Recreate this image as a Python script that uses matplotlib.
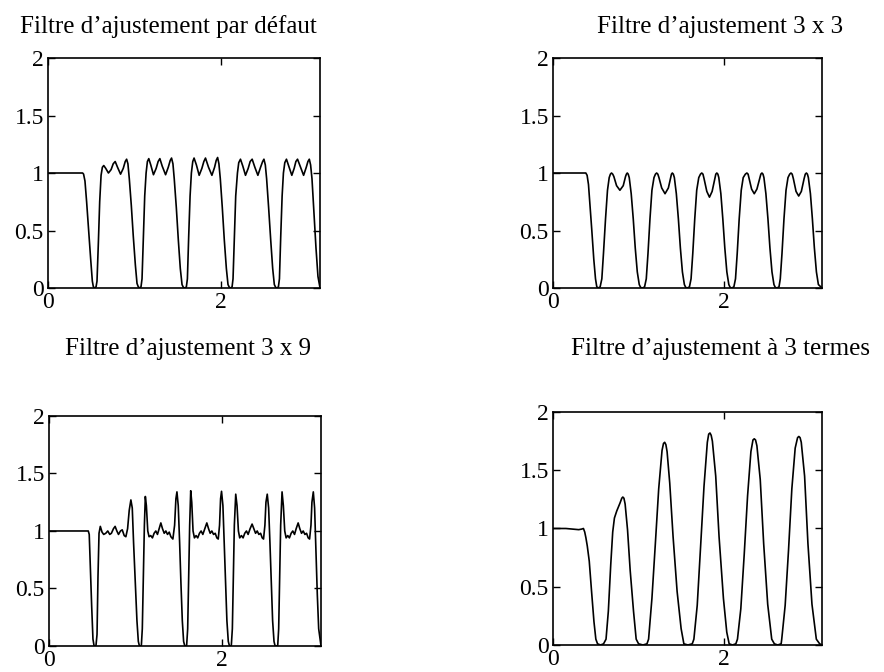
import numpy as np
import matplotlib.pyplot as plt

plt.rcParams['font.family'] = ['Liberation Serif', 'DejaVu Serif']

# gains (frequence en radians, gain)
freq_defaut = [0.0, 0.40, 0.411, 0.427, 0.446, 0.469, 0.493, 0.512, 0.524, 0.539, 0.555, 0.566, 0.582, 0.597, 0.613, 0.628,
               0.644, 0.667, 0.698, 0.729, 0.753, 0.776, 0.803, 0.838, 0.869, 0.892, 0.908, 0.923, 0.939, 0.962, 0.985,
               1.009, 1.028, 1.043, 1.059, 1.074,
               1.086, 1.102, 1.117, 1.133, 1.148, 1.164, 1.187, 1.218, 1.249, 1.272, 1.292, 1.319, 1.358, 1.389, 1.412,
               1.427, 1.443, 1.458, 1.482, 1.505, 1.528, 1.548, 1.564, 1.583, 1.598,
               1.610, 1.625, 1.641, 1.656, 1.672, 1.687, 1.714, 1.746, 1.777, 1.800, 1.819, 1.854, 1.893, 1.924, 1.943,
               1.959, 1.974, 1.990, 2.013, 2.036, 2.060, 2.079, 2.095, 2.110, 2.126,
               2.137, 2.153, 2.168, 2.188, 2.203, 2.223, 2.250, 2.281, 2.312, 2.335, 2.358, 2.389, 2.424, 2.455, 2.479,
               2.494, 2.510, 2.525, 2.548, 2.572, 2.595, 2.614, 2.630, 2.645, 2.661,
               2.673, 2.688, 2.704, 2.719, 2.735, 2.754, 2.781, 2.816, 2.843, 2.863, 2.882, 2.917, 2.952, 2.983, 3.002,
               3.018, 3.033, 3.049, 3.072, 3.095, 3.118, 3.142]
gain_defaut = [1.0, 1.0, 0.99, 0.93, 0.75, 0.50, 0.25, 0.06, 0.01, 0.0, 0.01, 0.06, 0.40, 0.75, 0.98, 1.05,
               1.065, 1.04, 1.0, 1.03, 1.08, 1.10, 1.05, 0.99, 1.04, 1.10, 1.12, 1.08, 0.95, 0.72, 0.45,
               0.20, 0.04, 0.01, 0.0, 0.01,
               0.08, 0.45, 0.80, 1.0, 1.10, 1.125, 1.07, 0.985, 1.04, 1.10, 1.125, 1.06, 0.985, 1.05, 1.11,
               1.13, 1.08, 0.95, 0.70, 0.42, 0.17, 0.03, 0.005, 0.0, 0.01,
               0.08, 0.45, 0.80, 1.0, 1.10, 1.13, 1.07, 0.98, 1.04, 1.10, 1.13, 1.05, 0.98, 1.05, 1.11,
               1.135, 1.08, 0.95, 0.70, 0.42, 0.17, 0.03, 0.005, 0.0, 0.01,
               0.08, 0.45, 0.80, 1.0, 1.09, 1.12, 1.06, 0.98, 1.04, 1.10, 1.12, 1.05, 0.98, 1.05, 1.10,
               1.12, 1.07, 0.95, 0.70, 0.42, 0.17, 0.03, 0.005, 0.0, 0.01,
               0.08, 0.45, 0.80, 1.0, 1.09, 1.12, 1.06, 0.98, 1.04, 1.10, 1.12, 1.05, 0.98, 1.05, 1.10,
               1.12, 1.07, 0.95, 0.65, 0.35, 0.10, 0.0]

freq_3x3 = [0.0, 0.383, 0.398, 0.414, 0.429, 0.453, 0.476, 0.496, 0.511, 0.531, 0.550,
            0.570, 0.589, 0.613, 0.636, 0.656, 0.670, 0.683, 0.697, 0.710, 0.742, 0.781, 0.820, 0.847, 0.857,
            0.867, 0.878, 0.890, 0.913,
            0.937, 0.960, 0.984, 1.007, 1.023, 1.046, 1.069,
            1.089, 1.109, 1.132, 1.155, 1.179, 1.196, 1.210, 1.224, 1.237, 1.269, 1.308, 1.347, 1.374, 1.383,
            1.393, 1.405, 1.417, 1.440,
            1.464, 1.487, 1.511, 1.534, 1.550, 1.569, 1.593,
            1.612, 1.632, 1.655, 1.678, 1.702, 1.722, 1.737, 1.751, 1.764, 1.796, 1.827, 1.858, 1.889, 1.901,
            1.913, 1.925, 1.936, 1.960,
            1.983, 2.006, 2.030, 2.053, 2.069, 2.088, 2.112,
            2.131, 2.151, 2.174, 2.198, 2.221, 2.246, 2.264, 2.278, 2.291, 2.319, 2.350, 2.381, 2.412, 2.427,
            2.440, 2.452, 2.463, 2.486,
            2.510, 2.533, 2.557, 2.580, 2.596, 2.615, 2.639,
            2.654, 2.674, 2.697, 2.721, 2.744, 2.764, 2.779, 2.793, 2.807, 2.838, 2.869, 2.900, 2.932, 2.946,
            2.959, 2.971, 2.982, 3.006,
            3.029, 3.052, 3.076, 3.099, 3.142]
gain_3x3 = [1.0, 1.0, 0.98, 0.90, 0.75, 0.50, 0.25, 0.08, 0.01, 0.0, 0.01,
            0.08, 0.30, 0.60, 0.85, 0.96, 0.99, 1.0, 0.99, 0.97, 0.89, 0.85, 0.89, 0.97, 0.99,
            1.0, 0.99, 0.96, 0.82,
            0.60, 0.35, 0.14, 0.03, 0.005, 0.0, 0.01,
            0.08, 0.30, 0.60, 0.85, 0.96, 0.99, 1.0, 0.99, 0.96, 0.87, 0.82, 0.87, 0.96, 0.99,
            1.0, 0.99, 0.96, 0.82,
            0.60, 0.35, 0.14, 0.03, 0.005, 0.0, 0.01,
            0.08, 0.30, 0.60, 0.85, 0.96, 0.99, 1.0, 0.99, 0.95, 0.84, 0.79, 0.84, 0.95, 0.99,
            1.0, 0.99, 0.96, 0.82,
            0.60, 0.35, 0.14, 0.03, 0.005, 0.0, 0.01,
            0.08, 0.30, 0.60, 0.85, 0.96, 0.99, 1.0, 0.99, 0.95, 0.86, 0.82, 0.86, 0.95, 0.99,
            1.0, 0.99, 0.96, 0.82,
            0.60, 0.35, 0.14, 0.03, 0.005, 0.0, 0.01,
            0.08, 0.30, 0.60, 0.85, 0.96, 0.99, 1.0, 0.99, 0.95, 0.84, 0.80, 0.84, 0.95, 0.99,
            1.0, 0.99, 0.96, 0.82,
            0.60, 0.35, 0.14, 0.03, 0.0]

freq_3x9 = [0.0, 0.454, 0.465, 0.477, 0.493, 0.508, 0.520, 0.531, 0.543, 0.555, 0.566, 0.578, 0.593, 0.613,
            0.632, 0.656, 0.679, 0.702, 0.721, 0.745, 0.764, 0.784, 0.803, 0.826, 0.846, 0.869, 0.888, 0.908,
            0.927, 0.946, 0.962, 0.977, 0.997, 1.016, 1.032, 1.043, 1.055, 1.067,
            1.078, 1.090, 1.102, 1.113, 1.125, 1.141, 1.156, 1.175, 1.195, 1.214, 1.234, 1.253, 1.272, 1.292,
            1.311, 1.331, 1.350, 1.369, 1.389, 1.408, 1.431, 1.451, 1.466, 1.478, 1.493, 1.509, 1.524, 1.540,
            1.555, 1.567, 1.579, 1.590,
            1.602, 1.614, 1.625, 1.637, 1.649, 1.664, 1.680, 1.699, 1.718, 1.738, 1.757, 1.777, 1.800, 1.823,
            1.843, 1.862, 1.881, 1.901, 1.920, 1.939, 1.955, 1.970, 1.982, 1.993, 2.009, 2.024, 2.040, 2.055,
            2.071, 2.083, 2.095, 2.106,
            2.118, 2.130, 2.141, 2.157, 2.172, 2.188, 2.203, 2.223, 2.242, 2.261, 2.281, 2.300, 2.323, 2.346,
            2.366, 2.386, 2.405, 2.424, 2.444, 2.463, 2.478, 2.494, 2.506, 2.521, 2.537, 2.552, 2.568, 2.583,
            2.599, 2.610, 2.626, 2.642,
            2.653, 2.665, 2.676, 2.692, 2.707, 2.723, 2.739, 2.758, 2.777, 2.797, 2.816, 2.836, 2.855, 2.878,
            2.897, 2.917, 2.936, 2.956, 2.975, 2.994, 3.010, 3.026, 3.037, 3.053, 3.068, 3.084, 3.099, 3.115,
            3.142]
gain_3x9 = [1.0, 1.0, 0.97, 0.70, 0.35, 0.06, 0.005, 0.0, 0.005, 0.10, 0.60, 0.98, 1.04, 0.99,
            0.97, 0.98, 1.0, 0.97, 0.98, 1.02, 1.04, 1.0, 0.97, 1.0, 1.01, 0.96, 0.95, 1.02,
            1.18, 1.27, 1.20, 0.90, 0.55, 0.22, 0.04, 0.005, 0.0, 0.005,
            0.15, 0.60, 1.05, 1.30, 1.22, 1.0, 0.95, 0.96, 0.94, 0.98, 1.00, 0.97, 1.02, 1.07,
            1.02, 0.98, 1.00, 0.97, 0.99, 0.95, 0.93, 1.05, 1.28, 1.34, 1.22, 0.90, 0.55, 0.22,
            0.04, 0.005, 0.0, 0.005,
            0.15, 0.60, 1.05, 1.35, 1.25, 1.0, 0.94, 0.96, 0.94, 0.98, 1.00, 0.97, 1.02, 1.07,
            1.02, 0.98, 1.00, 0.97, 0.98, 0.94, 0.93, 1.05, 1.28, 1.345, 1.22, 0.90, 0.55, 0.22,
            0.04, 0.005, 0.0, 0.005,
            0.15, 0.60, 1.05, 1.32, 1.22, 1.0, 0.94, 0.96, 0.94, 0.98, 1.00, 0.97, 1.02, 1.06,
            1.02, 0.98, 1.00, 0.97, 0.98, 0.94, 0.93, 1.05, 1.25, 1.32, 1.20, 0.90, 0.55, 0.22,
            0.04, 0.005, 0.0, 0.005,
            0.15, 0.60, 1.05, 1.34, 1.22, 1.0, 0.94, 0.96, 0.94, 0.98, 1.00, 0.97, 1.02, 1.07,
            1.02, 0.98, 1.00, 0.97, 0.98, 0.94, 0.93, 1.05, 1.25, 1.34, 1.20, 0.80, 0.45, 0.15,
            0.0]

freq_3t = [0.0, 0.15, 0.30, 0.335, 0.355, 0.37, 0.384, 0.40, 0.423, 0.45, 0.478, 0.50, 0.52, 0.555, 0.59,
           0.619, 0.646, 0.674, 0.697, 0.717, 0.744, 0.783, 0.803, 0.815, 0.828, 0.842, 0.870, 0.901, 0.940,
           0.971, 0.999, 1.05, 1.097,
           1.116, 1.155, 1.195, 1.234, 1.273, 1.290, 1.304, 1.318, 1.332, 1.363, 1.402, 1.449, 1.496, 1.528,
           1.575, 1.626,
           1.645, 1.684, 1.723, 1.763, 1.802, 1.818, 1.833, 1.847, 1.861, 1.900, 1.939, 1.990, 2.029, 2.057,
           2.096, 2.135,
           2.154, 2.193, 2.233, 2.272, 2.311, 2.335, 2.350, 2.365, 2.381, 2.420, 2.460, 2.507, 2.554, 2.585,
           2.624, 2.664,
           2.671, 2.711, 2.750, 2.789, 2.828, 2.856, 2.871, 2.885, 2.899, 2.938, 2.977, 3.024, 3.075, 3.114,
           3.142]
gain_3t = [1.0, 1.0, 0.99, 0.995, 1.0, 0.97, 0.92, 0.85, 0.72, 0.46, 0.20, 0.05, 0.01, 0.0, 0.01,
           0.05, 0.29, 0.69, 0.97, 1.09, 1.15, 1.22, 1.26, 1.27, 1.26, 1.21, 0.99, 0.64, 0.29,
           0.05, 0.01, 0.0, 0.01,
           0.05, 0.40, 0.87, 1.34, 1.67, 1.73, 1.74, 1.72, 1.66, 1.39, 0.93, 0.46, 0.14, 0.01,
           0.0, 0.01,
           0.05, 0.34, 0.84, 1.36, 1.74, 1.81, 1.82, 1.80, 1.75, 1.45, 0.93, 0.40, 0.11, 0.01,
           0.0, 0.01,
           0.05, 0.31, 0.78, 1.28, 1.66, 1.76, 1.77, 1.76, 1.71, 1.42, 0.87, 0.35, 0.05, 0.01,
           0.0, 0.01,
           0.05, 0.34, 0.81, 1.34, 1.69, 1.78, 1.79, 1.78, 1.74, 1.45, 0.87, 0.35, 0.05, 0.01,
           0.0]

titres = ["Filtre d\u2019ajustement par défaut", "Filtre d\u2019ajustement 3 x 3",
          "Filtre d\u2019ajustement 3 x 9", "Filtre d\u2019ajustement à 3 termes"]

fig = plt.figure(figsize=(8.84, 6.72), dpi=100)

positions = [[0.0543, 0.5714, 0.3077, 0.3423],
             [0.6256, 0.5714, 0.3043, 0.3423],
             [0.0554, 0.0387, 0.3077, 0.3423],
             [0.6256, 0.0402, 0.3043, 0.3467]]
courbes = [(freq_defaut, gain_defaut), (freq_3x3, gain_3x3),
           (freq_3x9, gain_3x9), (freq_3t, gain_3t)]

for pos, (f, g) in zip(positions, courbes):
    ax = fig.add_axes(pos)
    ax.plot(f, g, color='black', lw=1.2, solid_joinstyle='round')
    ax.set_xlim(0, np.pi)
    ax.set_ylim(0, 2)
    ax.set_xticks([0, 2])
    ax.set_yticks([0, 0.5, 1, 1.5, 2])
    ax.set_yticklabels(['0', '0.5', '1', '1.5', '2'])
    ax.tick_params(direction='in', top=True, right=True, length=5, width=1,
                   labelsize=17, pad=3)
    for s in ax.spines.values():
        s.set_linewidth(1.2)

# titres places comme sur la figure d'origine
fig.text(0.190, 0.951, titres[0], ha='center', va='baseline', fontsize=18)
fig.text(0.8145, 0.951, titres[1], ha='center', va='baseline', fontsize=18)
fig.text(0.2127, 0.472, titres[2], ha='center', va='baseline', fontsize=18)
fig.text(0.8145, 0.472, titres[3], ha='center', va='baseline', fontsize=18)

fig.savefig('out.png', dpi=100)
